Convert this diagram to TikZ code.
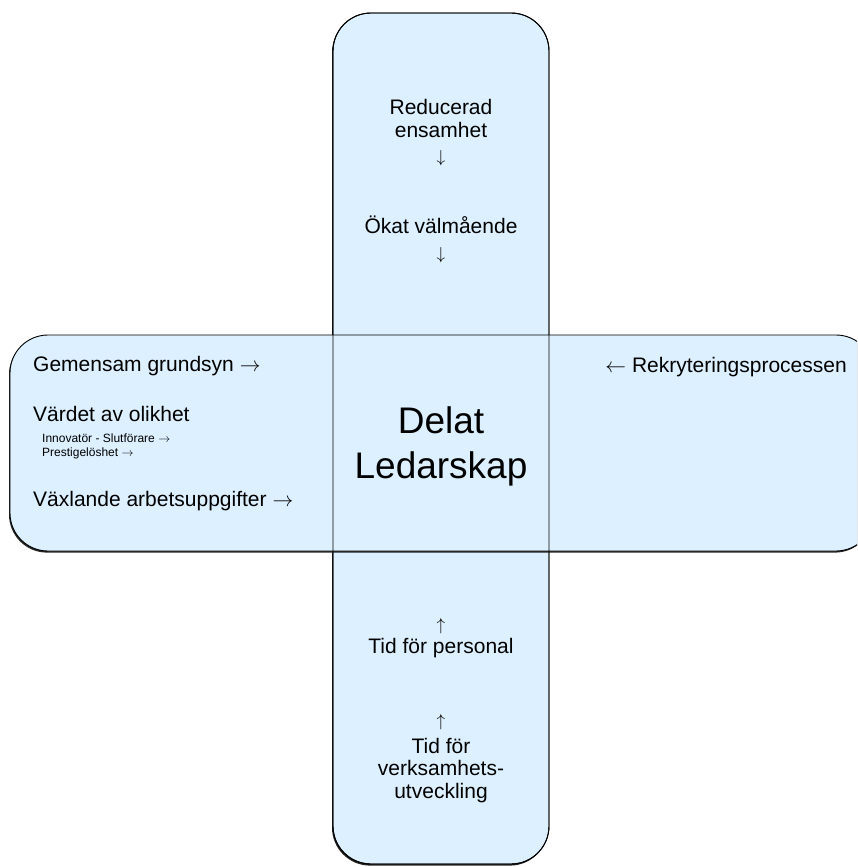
\documentclass[tikz,border=0pt]{standalone}
\usepackage{fontspec}
\setmainfont{Liberation Sans}
\usepackage{xcolor}
\usetikzlibrary{positioning}

\definecolor{boxblue}{RGB}{221,240,255}

\begin{document}
\begin{tikzpicture}[x=1pt,y=-1pt,
          box/.style={
              fill=boxblue,
              draw=black,
              line width=0.9pt,
              rounded corners=38pt
            },shadowbox/.style={
              fill=black!85,
              draw=none,
              rounded corners=38pt,
              xshift=-1pt,
              yshift=-1.6pt
            },txt/.style={
              inner sep=0pt,
              font=\fontsize{21}{22.5}\selectfont
            },pil/.style={
              inner sep=0pt,
              font=\fontsize{18}{20}\selectfont
            },small/.style={
              inner sep=0pt,
              font=\fontsize{12}{14}\selectfont
            },big/.style={
              inner sep=0pt,
              align=center,
              font=\fontsize{37}{45}\selectfont
            }
        ]
        \useasboundingbox (0,0) rectangle (857,867);
        \clip (0,0) rectangle (857,867);

        % vertikal stapel
        \draw[shadowbox] (333,13) rectangle (549,864);
        \draw[box] (333,13) rectangle (549,864);
        % horisontell stapel
        \draw[shadowbox] (10,335) rectangle (874,551);
        \draw[box] (10,335) rectangle (874,551);
        % vertikal kontur ovanpå
        \draw[line width=0.9pt,rounded corners=38pt] (333,13) rectangle (549,864);

        % mitten (base = sista raden)
        \node[big,anchor=base] (delat) at (441,478) {Delat\\Ledarskap};

        % ovan
        \node[txt,align=center,anchor=base] (reducerad) at (441,137) {Reducerad\\ensamhet};
        \node[pil] (pil_ned1) [below=13pt of reducerad] {$\downarrow$};
        \node[txt,anchor=base] (okat) at (441,233) {Ökat välmående};
        \node[pil] (pil_ned2) [below=14pt of okat] {$\downarrow$};

        % vänster
        \node[txt,anchor=base west] (gemensam) at (33,371) {Gemensam grundsyn $\rightarrow$};
        \node[txt,anchor=base west] (vardet) at (33,421) {Värdet av olikhet};
        \node[small,anchor=base west] (innovator) at (42,442) {Innovatör - Slutförare $\rightarrow$};
        \node[small,anchor=base west] (prestige) at (42,456) {Prestigelöshet $\rightarrow$};
        \node[txt,anchor=base west] (vaxlande) at (33,506) {Växlande arbetsuppgifter $\rightarrow$};

        % höger
        \node[txt,anchor=base east] (rekrytering) at (847,372) {$\leftarrow$ Rekryteringsprocessen};

        % nedan
        \node[txt,anchor=base] (personal) at (441,653) {Tid för personal};
        \node[pil] (pil_upp1) [above=4pt of personal] {$\uparrow$};
        \node[txt,align=center,anchor=base] (verksamhet) at (441,798) {Tid för\\verksamhets-\\utveckling};
        \node[pil] (pil_upp2) [above=8pt of verksamhet] {$\uparrow$};

      \end{tikzpicture}
\end{document}
